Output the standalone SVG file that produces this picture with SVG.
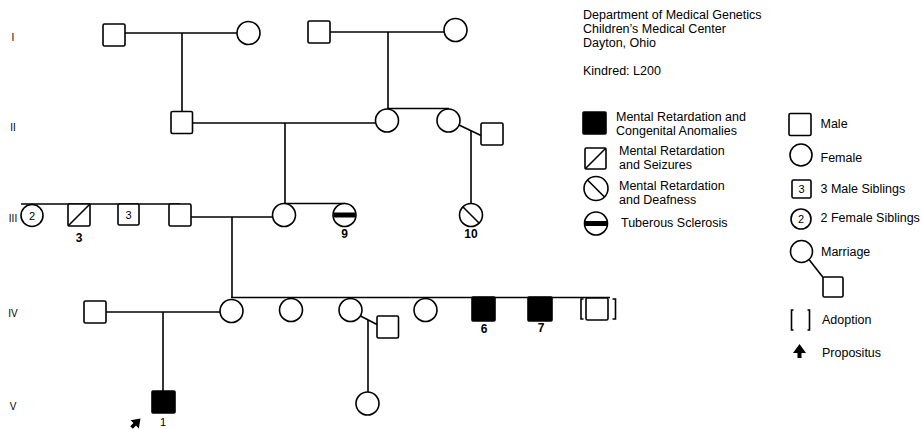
<svg xmlns="http://www.w3.org/2000/svg" width="922" height="429" viewBox="0 0 922 429">
<style>
.sym{fill:#fff;stroke:#000;stroke-width:1.6}
.aff{fill:#000;stroke:#000;stroke-width:1.6}
.ln{fill:none;stroke:#000;stroke-width:1.6}
.bar{fill:none;stroke:#000;stroke-width:5}
.t{font-family:"Liberation Sans",Arial,Helvetica,sans-serif;font-size:12.5px;fill:#000}
.gen{font-family:"Liberation Sans",Arial,sans-serif;font-size:10px;fill:#000;text-anchor:middle}
.num{font-family:"Liberation Sans",Arial,sans-serif;font-size:12px;font-weight:bold;fill:#000;text-anchor:middle}
.in{font-family:"Liberation Sans",Arial,sans-serif;font-size:11px;fill:#000;text-anchor:middle}
</style>
<defs>
<path id="prop" d="M0,-7 L6.5,2 L2,2 L2,7 L-2,7 L-2,2 L-6.5,2 Z" fill="#000"/>
</defs>
<rect width="922" height="429" fill="#fff"/>

<g id="gen-labels">
<text class="gen" x="13" y="41">I</text>
<text class="gen" x="13" y="131">II</text>
<text class="gen" x="13" y="221.5">III</text>
<text class="gen" x="13" y="317">IV</text>
<text class="gen" x="13" y="410">V</text>
</g>

<g id="connectors">
<path class="ln" d="M125,33 H237"/>
<path class="ln" d="M182,33 V111.5"/>
<path class="ln" d="M330,32 H444"/>
<path class="ln" d="M388,32 V108.5"/>
<path class="ln" d="M387,108.5 H449"/>
<path class="ln" d="M192.5,123 H376"/>
<path class="ln" d="M285,123 V203.5"/>
<path class="ln" d="M284,203.5 H345"/>
<path class="ln" d="M459,125 L481,135.5"/>
<path class="ln" d="M471,130.5 V203.5"/>
<path class="ln" d="M21,204 H180"/>
<path class="ln" d="M191,217 H273"/>
<path class="ln" d="M232,217 V297.5"/>
<path class="ln" d="M231,297.5 H610"/>
<path class="ln" d="M106,312 H220"/>
<path class="ln" d="M163,312 V391"/>
<path class="ln" d="M360.5,316 L377,324.5"/>
<path class="ln" d="M368,320 V392"/>
</g>

<g id="I-1"><rect class="sym" x="103" y="24" width="22" height="22" rx="1.5"/></g>
<g id="I-2"><circle class="sym" cx="248.5" cy="33" r="11.5"/></g>
<g id="I-3"><rect class="sym" x="308" y="21" width="22" height="22" rx="1.5"/></g>
<g id="I-4"><circle class="sym" cx="455.5" cy="30" r="11.5"/></g>

<g id="II-1"><rect class="sym" x="171" y="111.5" width="21.5" height="22" rx="1.5"/></g>
<g id="II-2"><circle class="sym" cx="387" cy="120.5" r="11.5"/></g>
<g id="II-3"><circle class="sym" cx="448.5" cy="120.5" r="11.5"/></g>
<g id="II-4"><rect class="sym" x="481" y="123" width="22" height="22" rx="1.5"/></g>

<g id="III-1"><circle class="sym" cx="32" cy="215.5" r="11"/><text class="in" x="32" y="219.5">2</text></g>
<g id="III-2"><rect class="sym" x="68" y="204" width="22" height="22" rx="1.5"/><path class="ln" d="M68,226 L90,204"/><text class="num" x="79" y="241.5">3</text></g>
<g id="III-3"><rect class="sym" x="118" y="204" width="21" height="21" rx="1.5"/><text class="in" x="128.5" y="218.5">3</text></g>
<g id="III-4"><rect class="sym" x="169" y="204" width="22" height="22" rx="1.5"/></g>
<g id="III-5"><circle class="sym" cx="284" cy="215" r="11.5"/></g>
<g id="III-9"><circle class="sym" cx="344.5" cy="215" r="11.5"/><path class="bar" d="M333.5,215 H355.5"/><text class="num" x="344.5" y="237.5">9</text></g>
<g id="III-10"><circle class="sym" cx="471" cy="215" r="11.5"/><path class="ln" d="M463,207 L479,223"/><text class="num" x="471" y="237.5">10</text></g>

<g id="IV-1"><rect class="sym" x="84" y="301" width="22" height="22" rx="1.5"/></g>
<g id="IV-2"><circle class="sym" cx="231.5" cy="311" r="11.5"/></g>
<g id="IV-3"><circle class="sym" cx="291" cy="310" r="11.5"/></g>
<g id="IV-4"><circle class="sym" cx="350.5" cy="310" r="11.5"/></g>
<g id="IV-5"><rect class="sym" x="377" y="316" width="21.5" height="22" rx="1.5"/></g>
<g id="IV-6"><circle class="sym" cx="425.5" cy="310" r="11.5"/></g>
<g id="IV-7"><rect class="aff" x="472" y="297" width="23" height="24" rx="1"/><text class="num" x="484" y="332.5">6</text></g>
<g id="IV-8"><rect class="aff" x="528" y="297" width="24" height="24" rx="1"/><text class="num" x="541" y="332">7</text></g>
<g id="IV-9"><rect class="sym" x="586" y="298" width="22" height="22" rx="1.5"/><path class="ln" d="M583.5,299 H581 V319 H583.5 M612.5,299 H615.5 V319 H612.5"/></g>

<g id="V-1"><rect class="aff" x="152" y="391" width="23" height="22" rx="1"/><text class="in" x="163" y="425.5">1</text><use href="#prop" transform="translate(136,423) rotate(45) scale(0.9)"/></g>
<g id="V-2"><circle class="sym" cx="367.5" cy="403.5" r="11.5"/></g>

<g id="header">
<text class="t" x="583" y="19">Department of Medical Genetics</text>
<text class="t" x="583" y="33">Children’s Medical Center</text>
<text class="t" x="583" y="47">Dayton, Ohio</text>
<text class="t" x="583" y="75">Kindred: L200</text>
</g>

<g id="legend-affected">
<rect class="aff" x="583" y="112" width="23" height="22" rx="1"/>
<text class="t" x="616" y="121">Mental Retardation and</text>
<text class="t" x="616" y="135">Congenital Anomalies</text>
</g>
<g id="legend-seizures">
<rect class="sym" x="585" y="148" width="21" height="21" rx="1.5"/><path class="ln" d="M585,169 L606,148"/>
<text class="t" x="619" y="155">Mental Retardation</text>
<text class="t" x="619" y="169">and Seizures</text>
</g>
<g id="legend-deafness">
<circle class="sym" cx="596" cy="188.5" r="12"/><path class="ln" d="M587.5,180 L604.5,197"/>
<text class="t" x="619" y="190">Mental Retardation</text>
<text class="t" x="619" y="204">and Deafness</text>
</g>
<g id="legend-tuberous">
<circle class="sym" cx="596" cy="223.5" r="11.5"/><path class="bar" d="M585,223.5 H607"/>
<text class="t" x="621" y="227">Tuberous Sclerosis</text>
</g>

<g id="legend-male"><rect class="sym" x="789" y="113.5" width="22" height="22" rx="1.5"/><text class="t" x="820.5" y="128">Male</text></g>
<g id="legend-female"><circle class="sym" cx="801" cy="155" r="11"/><text class="t" x="820.5" y="161.5">Female</text></g>
<g id="legend-males3"><rect class="sym" x="792" y="180" width="19" height="18" rx="1.5"/><text class="in" x="801.5" y="193">3</text><text class="t" x="820.5" y="193">3 Male Siblings</text></g>
<g id="legend-females2"><circle class="sym" cx="801" cy="219" r="10"/><text class="in" x="801" y="223">2</text><text class="t" x="820.5" y="221.5">2 Female Siblings</text></g>
<g id="legend-marriage"><circle class="sym" cx="801.5" cy="251.5" r="11"/><path class="ln" d="M809,259.5 L823.5,278"/><rect class="sym" x="823" y="277" width="20" height="20" rx="1.5"/><text class="t" x="821" y="256">Marriage</text></g>
<g id="legend-adoption"><path class="ln" d="M793.5,310 H791.5 V330 H793.5 M807.5,310 H809.5 V330 H807.5"/><text class="t" x="822" y="324">Adoption</text></g>
<g id="legend-propositus"><use href="#prop" transform="translate(799.5,351)"/><text class="t" x="822" y="357">Propositus</text></g>
</svg>
